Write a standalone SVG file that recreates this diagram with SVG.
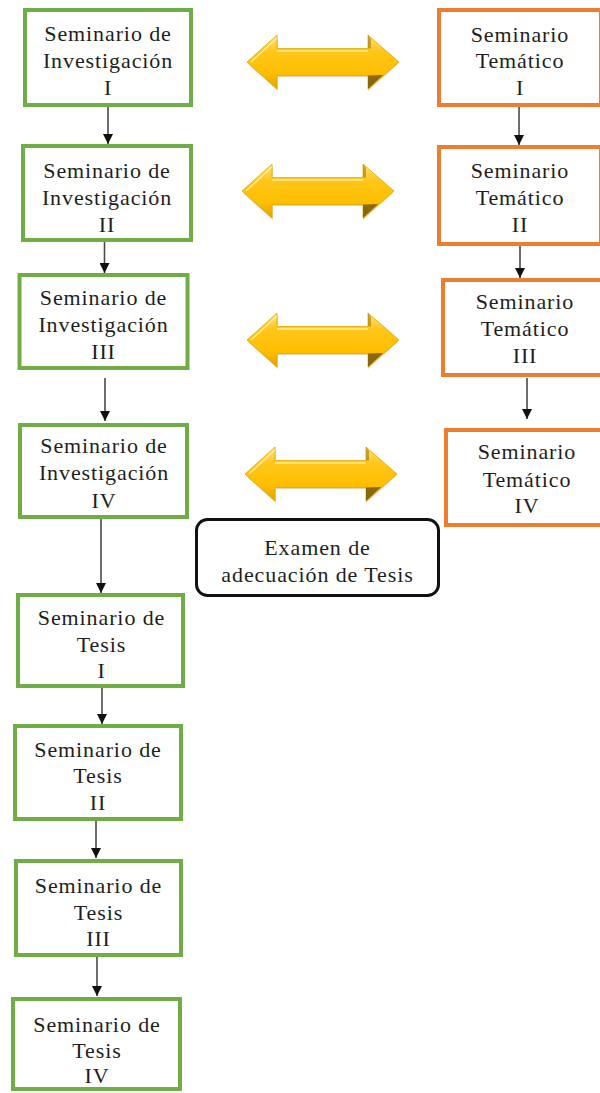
<svg xmlns="http://www.w3.org/2000/svg" width="600" height="1093" viewBox="0 0 600 1093">
<style>
  .g { fill: #ffffff; stroke: #70AD47; stroke-width: 4; }
  .o { fill: #ffffff; stroke: #ED7D31; stroke-width: 4; }
  .t { font-family: "Liberation Serif", "Times New Roman", serif; font-size: 22px; fill: #1e1e1e; text-anchor: middle; letter-spacing: 0.9px; }
  .c { stroke: #4a4a4a; stroke-width: 1.6; fill: none; marker-end: url(#ah); }
</style>
<defs>
  <marker id="ah" viewBox="0 0 10 10" refX="10" refY="5" markerWidth="10" markerHeight="10" markerUnits="userSpaceOnUse" orient="auto">
    <path d="M0,0 L10,5 L0,10 Z" fill="#111"/>
  </marker>
  <linearGradient id="gold" x1="0" y1="0" x2="0" y2="1">
    <stop offset="0" stop-color="#FFE27A"/>
    <stop offset="0.3" stop-color="#FFC61A"/>
    <stop offset="0.7" stop-color="#FFBF00"/>
    <stop offset="1" stop-color="#E0A200"/>
  </linearGradient>
  <g id="dbl">
    <path d="M2,29 L2,29" fill="none"/>
    <path d="M1,29 L31,2 L31,16 L121,16 L121,2 L151,29 L121,56 L121,42 L31,42 L31,56 Z" fill="#B8860B" opacity="0.35"/>
    <path d="M0,27 L30,0 L30,13.5 L121,13.5 L121,0 L152,27 L121,54 L121,40.5 L30,40.5 L30,54 Z" fill="url(#gold)" stroke="#E6A800" stroke-width="0.8"/>
    <path d="M121,40.5 L121,54 L136,40 Z" fill="#7A5A08" opacity="0.85"/>
    <path d="M121,0 L121,13.5 L124,13.5 L124,4 Z" fill="#A07A10" opacity="0.6"/>
    <path d="M4,27 L30,3 M30,16 L121,16" stroke="#FFF2B0" stroke-width="1.5" fill="none" opacity="0.8"/>
  </g>
</defs>

<g id="connectors">
  <line class="c" x1="108" y1="107" x2="108" y2="144"/>
  <line class="c" x1="104.5" y1="242" x2="104.5" y2="273"/>
  <line class="c" x1="105" y1="378" x2="105" y2="421"/>
  <line class="c" x1="101" y1="519" x2="101" y2="593"/>
  <line class="c" x1="102" y1="688" x2="102" y2="724"/>
  <line class="c" x1="96" y1="821" x2="96" y2="858"/>
  <line class="c" x1="97" y1="957" x2="97" y2="996"/>
  <line class="c" x1="519" y1="107" x2="519" y2="145"/>
  <line class="c" x1="520" y1="246" x2="520" y2="278"/>
  <line class="c" x1="527" y1="378" x2="527" y2="419"/>
</g>

<g id="double-arrows">
  <use href="#dbl" x="247" y="35"/>
  <use href="#dbl" x="242" y="164"/>
  <use href="#dbl" x="247" y="313"/>
  <use href="#dbl" x="245" y="447"/>
</g>

<g id="inv1">
  <rect class="g" x="25" y="10" width="166" height="95"/>
  <text class="t" x="108" y="41">Seminario de</text>
  <text class="t" x="108" y="68">Investigación</text>
  <text class="t" x="108" y="95">I</text>
</g>
<g id="inv2">
  <rect class="g" x="23" y="146" width="168" height="94"/>
  <text class="t" x="107" y="178">Seminario de</text>
  <text class="t" x="107" y="205">Investigación</text>
  <text class="t" x="107" y="232">II</text>
</g>
<g id="inv3">
  <rect class="g" x="19.5" y="275" width="168" height="93"/>
  <text class="t" x="103.5" y="305">Seminario de</text>
  <text class="t" x="103.5" y="332">Investigación</text>
  <text class="t" x="103.5" y="359">III</text>
</g>
<g id="inv4">
  <rect class="g" x="20" y="425" width="167" height="92"/>
  <text class="t" x="104" y="453">Seminario de</text>
  <text class="t" x="104" y="480">Investigación</text>
  <text class="t" x="104" y="508">IV</text>
</g>

<g id="tem1">
  <rect class="o" x="439" y="10" width="162" height="95"/>
  <text class="t" x="520" y="42">Seminario</text>
  <text class="t" x="520" y="68">Temático</text>
  <text class="t" x="520" y="95">I</text>
</g>
<g id="tem2">
  <rect class="o" x="439" y="147" width="162" height="97"/>
  <text class="t" x="520" y="178">Seminario</text>
  <text class="t" x="520" y="205">Temático</text>
  <text class="t" x="520" y="232">II</text>
</g>
<g id="tem3">
  <rect class="o" x="443" y="280" width="170" height="95"/>
  <text class="t" x="525" y="309">Seminario</text>
  <text class="t" x="525" y="336">Temático</text>
  <text class="t" x="525" y="363">III</text>
</g>
<g id="tem4">
  <rect class="o" x="446" y="430" width="170" height="95"/>
  <text class="t" x="527" y="459">Seminario</text>
  <text class="t" x="527" y="487">Temático</text>
  <text class="t" x="527" y="513">IV</text>
</g>

<g id="examen">
  <rect x="196.5" y="519.5" width="242" height="76" rx="11" ry="11" fill="#ffffff" stroke="#111" stroke-width="3"/>
  <text class="t" x="317.5" y="555">Examen de</text>
  <text class="t" x="317.5" y="582">adecuación de Tesis</text>
</g>

<g id="tes1">
  <rect class="g" x="18" y="595" width="165" height="91"/>
  <text class="t" x="101.5" y="625">Seminario de</text>
  <text class="t" x="101.5" y="652">Tesis</text>
  <text class="t" x="101.5" y="678">I</text>
</g>
<g id="tes2">
  <rect class="g" x="15" y="726" width="166" height="93"/>
  <text class="t" x="98" y="757">Seminario de</text>
  <text class="t" x="98" y="783">Tesis</text>
  <text class="t" x="98" y="810">II</text>
</g>
<g id="tes3">
  <rect class="g" x="16" y="861" width="165" height="94"/>
  <text class="t" x="98.5" y="893">Seminario de</text>
  <text class="t" x="98.5" y="920">Tesis</text>
  <text class="t" x="98.5" y="946">III</text>
</g>
<g id="tes4">
  <rect class="g" x="13" y="999" width="167" height="90"/>
  <text class="t" x="97" y="1032">Seminario de</text>
  <text class="t" x="97" y="1058">Tesis</text>
  <text class="t" x="97" y="1083">IV</text>
</g>
</svg>
